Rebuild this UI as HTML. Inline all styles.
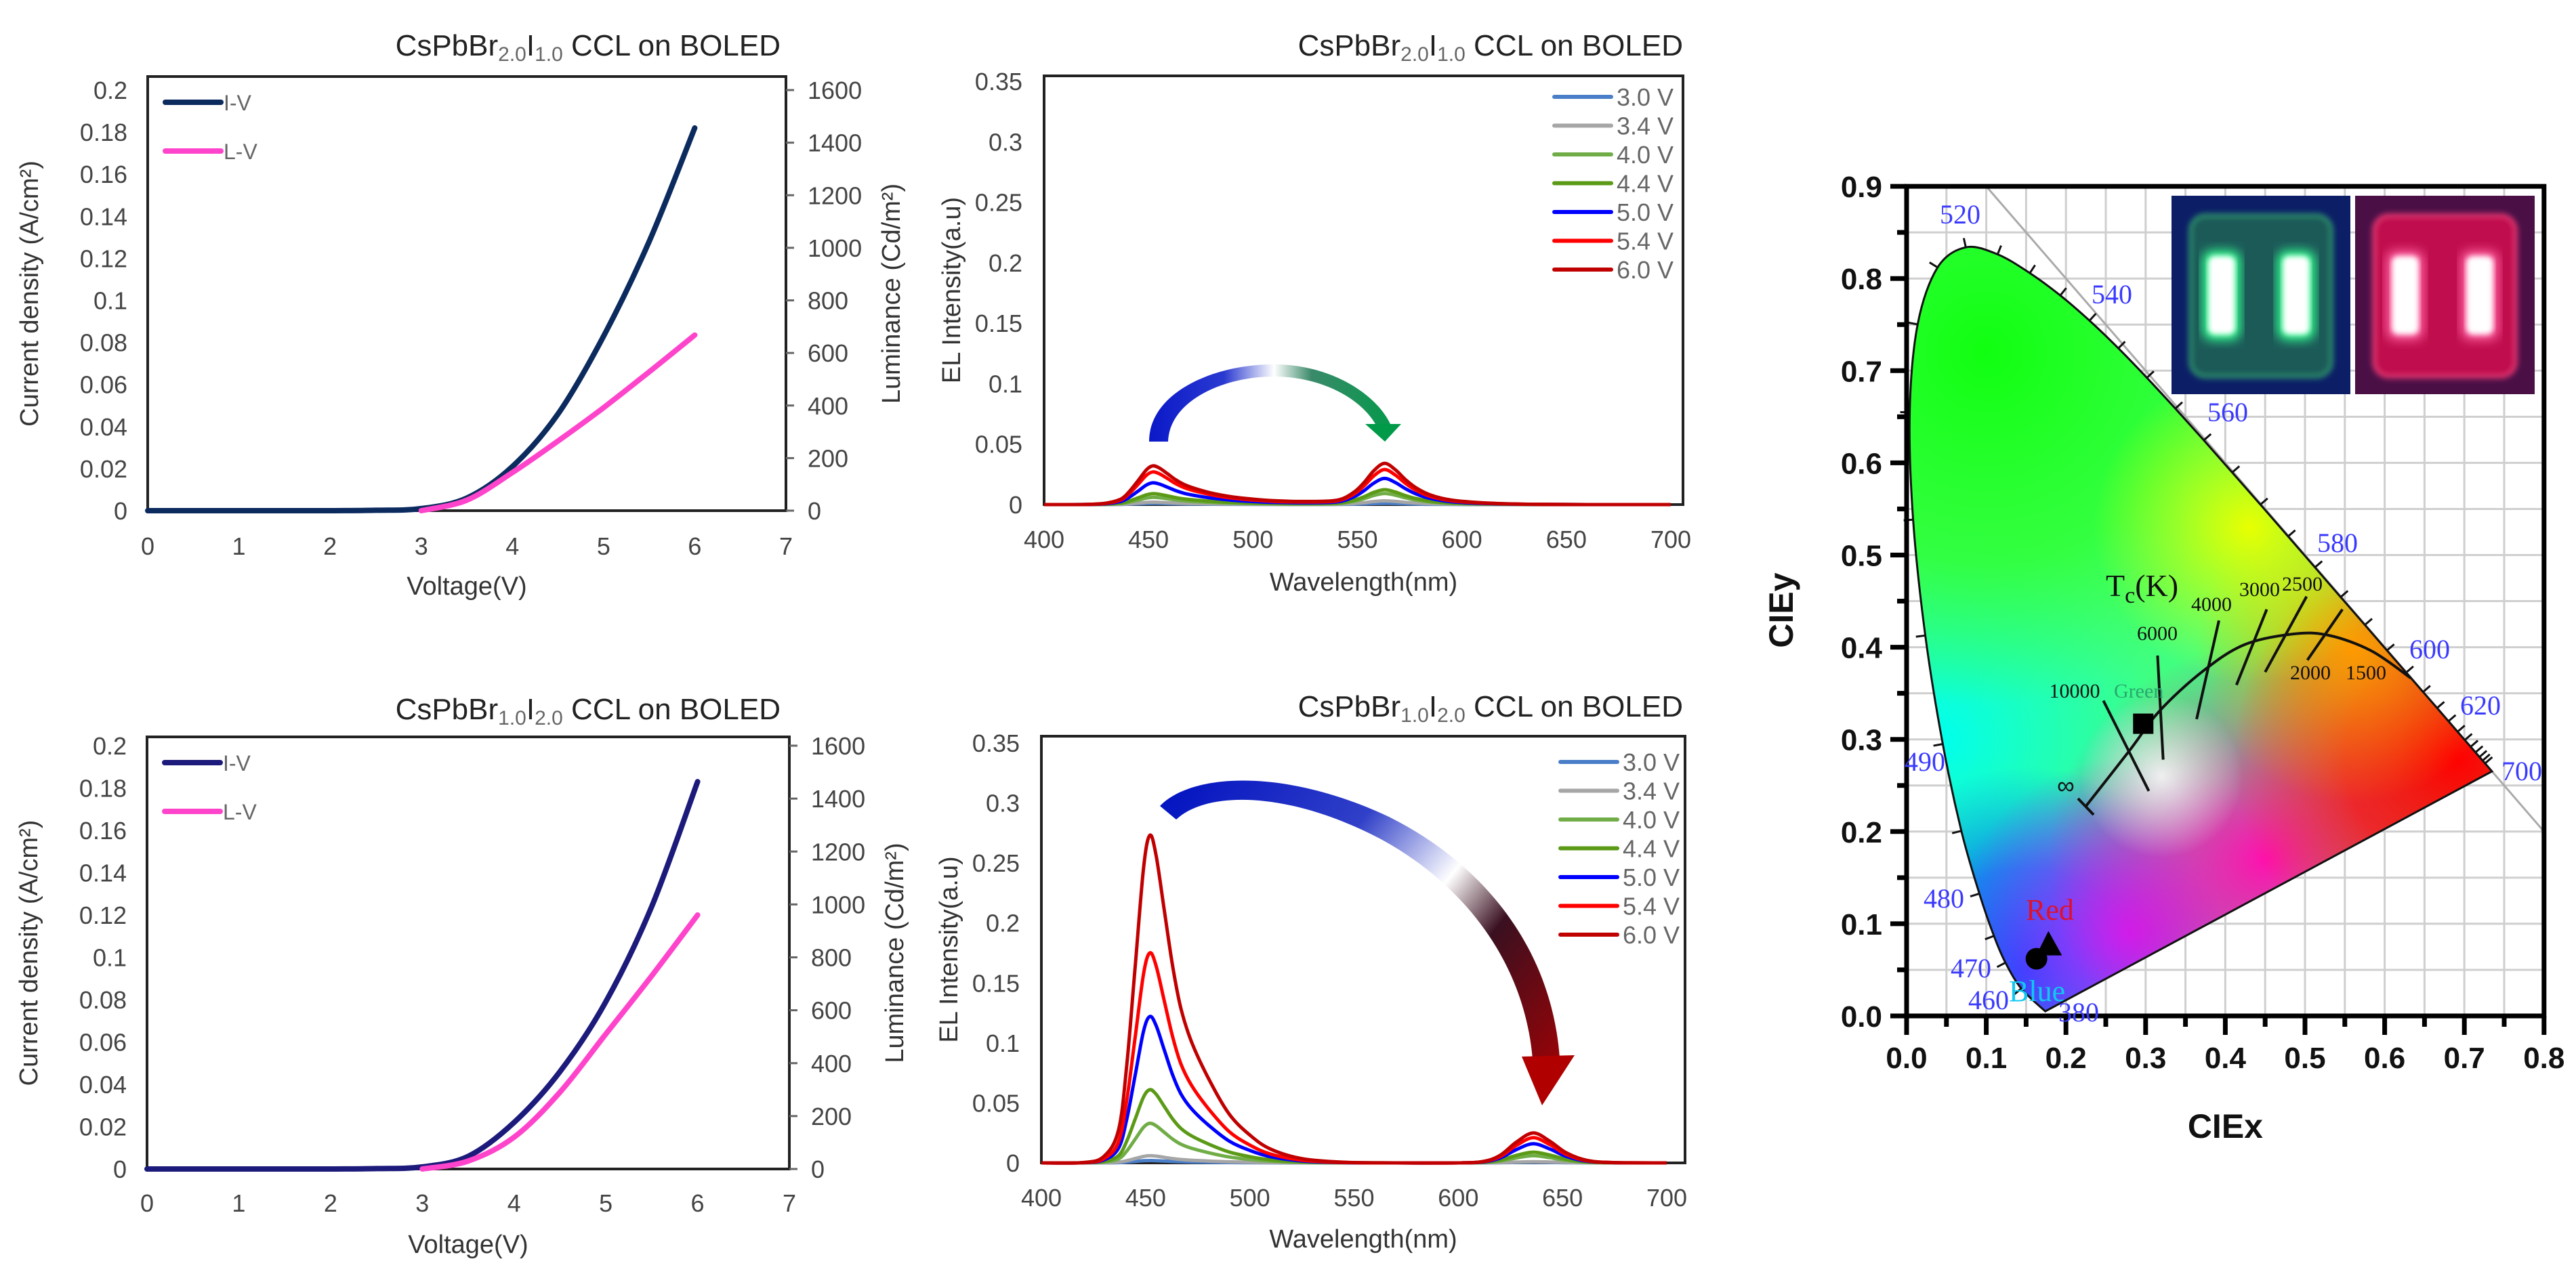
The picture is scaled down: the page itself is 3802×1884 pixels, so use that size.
<!DOCTYPE html>
<html><head><meta charset="utf-8">
<style>
html,body{margin:0;padding:0;background:#fff;}
svg{display:block;font-family:"Liberation Sans",sans-serif;}
</style></head>
<body>
<svg id="fig" xmlns="http://www.w3.org/2000/svg" width="3802" height="1884" viewBox="0 0 3802 1884">
<defs>
  <linearGradient id="arrowTopGrad" gradientUnits="userSpaceOnUse" x1="1696" y1="0" x2="2065" y2="0">
    <stop offset="0" stop-color="#0a18c8"/><stop offset="0.3" stop-color="#2a3ad0"/>
    <stop offset="0.5" stop-color="#ffffff"/><stop offset="0.65" stop-color="#3a8a6a"/><stop offset="1" stop-color="#009a48"/>
  </linearGradient>
  <linearGradient id="arrowBotGrad" gradientUnits="userSpaceOnUse" x1="1712" y1="1150" x2="2320" y2="1630">
    <stop offset="0" stop-color="#0010c0"/><stop offset="0.35" stop-color="#3040c8"/>
    <stop offset="0.55" stop-color="#ffffff"/><stop offset="0.68" stop-color="#3a1020"/><stop offset="1" stop-color="#b00000"/>
  </linearGradient>
  <filter id="blur8"><feGaussianBlur stdDeviation="8"/></filter>
  <filter id="blur4"><feGaussianBlur stdDeviation="4"/></filter>
  <clipPath id="locusClip"><path id="locusClipPath" d=""/></clipPath>
  <radialGradient id="gGreen"><stop offset="0" stop-color="#10ff10"/><stop offset="0.6" stop-color="#30ff30" stop-opacity="0.8"/><stop offset="1" stop-color="#40ff40" stop-opacity="0"/></radialGradient>
  <radialGradient id="gCyan"><stop offset="0" stop-color="#00ffee"/><stop offset="1" stop-color="#00ffee" stop-opacity="0"/></radialGradient>
  <radialGradient id="gBlue"><stop offset="0" stop-color="#0050ff"/><stop offset="0.5" stop-color="#0070ff" stop-opacity="0.8"/><stop offset="1" stop-color="#0090ff" stop-opacity="0"/></radialGradient>
  <radialGradient id="gViolet"><stop offset="0" stop-color="#c020ff"/><stop offset="1" stop-color="#c020ff" stop-opacity="0"/></radialGradient>
  <radialGradient id="gMag"><stop offset="0" stop-color="#ff10b0"/><stop offset="1" stop-color="#ff10b0" stop-opacity="0"/></radialGradient>
  <radialGradient id="gRed"><stop offset="0" stop-color="#ff0000"/><stop offset="0.5" stop-color="#ff1010" stop-opacity="0.8"/><stop offset="1" stop-color="#ff2020" stop-opacity="0"/></radialGradient>
  <radialGradient id="gOrange"><stop offset="0" stop-color="#ff9a00"/><stop offset="1" stop-color="#ff9a00" stop-opacity="0"/></radialGradient>
  <radialGradient id="gYellow"><stop offset="0" stop-color="#e8ff00"/><stop offset="1" stop-color="#e8ff00" stop-opacity="0"/></radialGradient>
  <radialGradient id="gWhite"><stop offset="0" stop-color="#ffffff" stop-opacity="0.85"/><stop offset="0.4" stop-color="#ffffff" stop-opacity="0.5"/><stop offset="1" stop-color="#ffffff" stop-opacity="0"/></radialGradient>
</defs>
<g id="layer"></g>
</svg>
<script>
// ---------- data ----------
const ivVolt = [0,1,2,2.5,3,3.5,4,4.5,5,5.5,6];
const ivTopJ = [0,0,0,0.0002,0.001,0.006,0.021,0.046,0.083,0.128,0.182];
const lvTopVolt = [3,3.5,4,4.5,5,5.5,6];
const lvTopL = [0,40,145,265,392,528,668];
const ivBotJ = [0,0,0,0.0002,0.001,0.006,0.022,0.046,0.079,0.124,0.183];
const lvBotVolt = [3,3.5,4,4.5,5,5.5,6];
const lvBotL = [0,30,120,290,510,730,960];

const voltLabels = ["3.0 V","3.4 V","4.0 V","4.4 V","5.0 V","5.4 V","6.0 V"];
const voltColors = ["#4a7ec8","#a6a6a6","#70ad47","#5b9a16","#0000ff","#ff0000","#c00000"];

const wlTop = [400,420,430,437,441,445,449,452,455,459,463,467,472,480,490,500,510,525,540,548,553,558,563,568,573,578,585,595,610,630,660,700];
const topShapeBlue = [0,0.003,0.04,0.15,0.35,0.62,0.9,1,0.95,0.8,0.64,0.52,0.42,0.3,0.2,0.14,0.1,0.08,0.06,0.05,0.045,0.04,0.035,0.03,0.027,0.024,0.02,0.012,0.005,0,0,0];
const topShapeGreen = [0,0,0,0,0,0,0,0,0,0,0,0,0,0,0,0,0,0,0.05,0.25,0.5,0.82,1,0.85,0.6,0.4,0.22,0.1,0.04,0.01,0,0];
const topPeakBlue = [0.001,0.002,0.006,0.009,0.018,0.027,0.032];
const topPeakGreen = [0.001,0.003,0.009,0.012,0.021,0.028,0.033];

const wlBot = [400,420,430,437,441,445,449,452,455,459,463,467,472,480,490,500,510,525,545,570,600,612,620,628,636,644,652,662,675,700];
const botShapeBlue = [0,0.001,0.02,0.1,0.3,0.6,0.9,1,0.94,0.77,0.6,0.47,0.37,0.26,0.15,0.085,0.042,0.013,0.002,0,0,0,0,0,0,0,0,0,0,0];
const botShapeRed = [0,0,0,0,0,0,0,0,0,0,0,0,0,0,0,0,0,0,0,0,0,0.05,0.25,0.7,1,0.72,0.33,0.08,0.01,0];
const botPeakBlue = [0.002,0.006,0.033,0.061,0.122,0.175,0.273];
const botPeakRed = [0.0005,0.001,0.006,0.009,0.016,0.021,0.025];

const locusX = [0.1741,0.1440,0.1241,0.1096,0.0913,0.0687,0.0454,0.0235,0.0082,0.0039,0.0139,0.0389,0.0743,0.1142,0.1547,0.1929,0.2296,0.2658,0.3016,0.3373,0.3731,0.4087,0.4441,0.4788,0.5125,0.5448,0.5752,0.6029,0.6270,0.6482,0.6658,0.6801,0.6915,0.7006,0.7079,0.7140,0.7190,0.7230,0.7260,0.7347];
const locusY = [0.0050,0.0297,0.0578,0.0868,0.1327,0.2007,0.2950,0.4127,0.5384,0.6548,0.7502,0.8120,0.8338,0.8262,0.8059,0.7816,0.7543,0.7243,0.6923,0.6589,0.6245,0.5896,0.5547,0.5202,0.4866,0.4544,0.4242,0.3965,0.3725,0.3514,0.3340,0.3197,0.3083,0.2993,0.2920,0.2859,0.2809,0.2770,0.2740,0.2653];
const planckX = [0.2245,0.2798,0.3172,0.3707,0.4235,0.4847,0.5298,0.5833,0.6327];
const planckY = [0.2270,0.2879,0.3306,0.3732,0.4026,0.4143,0.4129,0.3960,0.3666];
const isoLabels = ["10000","6000","4000","3000","2500","2000"];
const isoX1 = [0.247,0.315,0.392,0.452,0.502,0.547];
const isoY1 = [0.342,0.391,0.429,0.441,0.455,0.441];
const isoX2 = [0.304,0.322,0.364,0.414,0.450,0.503];
const isoY2 = [0.244,0.278,0.322,0.359,0.373,0.386];
const ptGreen = [0.297,0.317];
const ptBlue = [0.163,0.062];
const ptRed = [0.178,0.076];
const cieTicks = [0,0.1,0.2,0.3,0.4,0.5,0.6,0.7,0.8,0.9];

// ---------- helpers ----------
const NS = "http://www.w3.org/2000/svg";
const layer = document.getElementById("layer");
function mk(tag, attrs, parent){
  const e = document.createElementNS(NS, tag);
  for (const k in attrs) e.setAttribute(k, attrs[k]);
  (parent || layer).appendChild(e);
  return e;
}
function smoothPath(pts){
  let d = "M" + pts[0][0].toFixed(1) + "," + pts[0][1].toFixed(1);
  for (let i = 0; i < pts.length - 1; i++){
    const p0 = pts[Math.max(0,i-1)], p1 = pts[i], p2 = pts[i+1], p3 = pts[Math.min(pts.length-1,i+2)];
    const c1x = p1[0] + (p2[0]-p0[0])/6, c1y = p1[1] + (p2[1]-p0[1])/6;
    const c2x = p2[0] - (p3[0]-p1[0])/6, c2y = p2[1] - (p3[1]-p1[1])/6;
    d += " C" + c1x.toFixed(1) + "," + c1y.toFixed(1) + " " + c2x.toFixed(1) + "," + c2y.toFixed(1) + " " + p2[0].toFixed(1) + "," + p2[1].toFixed(1);
  }
  return d;
}
function txt(x, y, s, attrs, name){
  const t = mk("text", Object.assign({x:x, y:y}, attrs||{}));
  t.textContent = s;
  
  
  return t;
}
function title(xRight, y, a, b, name){
  const t = mk("text", {x:xRight, y:y, "text-anchor":"end", "font-size":44, fill:"#222"});
  
  
  const parts = [["CsPbBr",0],[a,1],["I",0],[b,1],[" CCL on BOLED",0]];
  parts.forEach(p=>{
    const s = document.createElementNS(NS,"tspan");
    s.textContent = p[0];
    if (p[1]) { s.setAttribute("font-size","30"); s.setAttribute("dy","8"); s.setAttribute("fill","#666"); }
    else if (p[0]==="I" || p[0].startsWith(" ")) { s.setAttribute("dy","-8"); }
    t.appendChild(s);
  });
}

// ---------- I-V / L-V chart ----------
function drawIV(cfg){
  const g = mk("g", {});
  
  
  const sx = v => cfg.x0 + (v/7)*(cfg.x7-cfg.x0);
  const sy = j => cfg.y0 - (j/0.2)*(cfg.y0-cfg.y02);
  const syL = l => cfg.y0 - (l/1600)*(cfg.y0-cfg.y02);
  const box = mk("rect", {x:cfg.x0, y:cfg.top, width:cfg.right-cfg.x0, height:cfg.y0-cfg.top, fill:"none", stroke:"#222", "stroke-width":4}, g);
   
  for (let i=0;i<=10;i++){
    const v = i*0.02;
    txt(cfg.x0-30, sy(v)+13, i===0?"0":(i===10?"0.2":(i%5===0?v.toFixed(1):v.toFixed(2))), {"text-anchor":"end","font-size":36,fill:"#444"}, "y-tick-label");
  }
  for (let i=0;i<=8;i++){
    const l=i*200;
    const tk = mk("line",{x1:cfg.right,x2:cfg.right+12,y1:syL(l),y2:syL(l),stroke:"#666","stroke-width":3},g);
     
    txt(cfg.right+32, syL(l)+13, String(l), {"font-size":36,fill:"#444"}, "y2-tick-label");
  }
  for (let v=0; v<=7; v++) txt(sx(v), cfg.xtY, String(v), {"text-anchor":"middle","font-size":36,fill:"#444"}, "x-tick-label");
  txt((cfg.x0+cfg.right)/2, cfg.xtitleY, "Voltage(V)", {"text-anchor":"middle","font-size":38,fill:"#333"}, "x-axis-title");
  txt(0,0,"Current density (A/cm²)",{"text-anchor":"middle","font-size":38,fill:"#333",transform:"translate("+(cfg.x0-162)+","+((cfg.top+cfg.y0)/2)+") rotate(-90)"},"y-axis-title");
  txt(0,0,"Luminance (Cd/m²)",{"text-anchor":"middle","font-size":38,fill:"#333",transform:"translate("+(cfg.right+168)+","+((cfg.top+cfg.y0)/2)+") rotate(-90)"},"y2-axis-title");
  const iv = mk("path",{d:smoothPath(ivVolt.map((v,i)=>[sx(v),sy(cfg.J[i])])),fill:"none",stroke:cfg.ivColor,"stroke-width":8,"stroke-linecap":"round"},g);
   
  const lv = mk("path",{d:smoothPath(cfg.LV.map((v,i)=>[sx(v),syL(cfg.L[i])])),fill:"none",stroke:"#ff44cc","stroke-width":8,"stroke-linecap":"round"},g);
   
  const l1 = mk("line",{x1:cfg.x0+26,x2:cfg.x0+108,y1:cfg.legY,y2:cfg.legY,stroke:cfg.ivColor,"stroke-width":8,"stroke-linecap":"round"},g);
   
  txt(cfg.x0+112, cfg.legY+12, "I-V", {"font-size":32,fill:"#666"}, "legend-iv-label");
  const l2 = mk("line",{x1:cfg.x0+26,x2:cfg.x0+108,y1:cfg.legY+72,y2:cfg.legY+72,stroke:"#ff44cc","stroke-width":8,"stroke-linecap":"round"},g);
   
  txt(cfg.x0+112, cfg.legY+84, "L-V", {"font-size":32,fill:"#666"}, "legend-lv-label");
}

drawIV({name:"iv-chart-top", x0:218, x7:1160, right:1160, top:113, y0:754, y02:133, xtY:819, xtitleY:878, J:ivTopJ, LV:lvTopVolt, L:lvTopL, ivColor:"#0b2a5e", legY:151});
drawIV({name:"iv-chart-bottom", x0:217, x7:1165, right:1165, top:1088, y0:1726, y02:1101, xtY:1789, xtitleY:1850, J:ivBotJ, LV:lvBotVolt, L:lvBotL, ivColor:"#1c1a7a", legY:1126});
title(1152, 82, "2.0", "1.0", "chart-title-top-left");
title(1152, 1062, "1.0", "2.0", "chart-title-bottom-left");

// ---------- EL spectra chart ----------
function drawEL(cfg){
  const g = mk("g", {});
  
  
  const sx = w => cfg.x400 + (w-400)/300*(cfg.x700-cfg.x400);
  const sy = v => cfg.y0 - (v/0.35)*(cfg.y0-cfg.y35);
  const box = mk("rect",{x:cfg.x400,y:cfg.top,width:cfg.right-cfg.x400,height:cfg.y0-cfg.top,fill:"none",stroke:"#222","stroke-width":4},g);
   
  for (let i=0;i<=7;i++){
    const v=i*0.05;
    txt(cfg.x400-32, sy(v)+13, i===0?"0":String(+v.toFixed(2)), {"text-anchor":"end","font-size":36,fill:"#444"}, "y-tick-label");
  }
  for (let w=400; w<=700; w+=50) txt(sx(w), cfg.xtY, String(w), {"text-anchor":"middle","font-size":36,fill:"#444"}, "x-tick-label");
  txt((cfg.x400+cfg.right)/2, cfg.xtitleY, "Wavelength(nm)", {"text-anchor":"middle","font-size":38,fill:"#333"}, "x-axis-title");
  txt(0,0,"EL Intensity(a.u)",{"text-anchor":"middle","font-size":38,fill:"#333",transform:"translate("+(cfg.x400-124)+","+((cfg.top+cfg.y0)/2)+") rotate(-90)"},"y-axis-title");
  for (let s=0; s<7; s++){
    const pts = cfg.wl.map((w,i)=>[sx(w), sy(cfg.pa[s]*cfg.sa[i] + cfg.pb[s]*cfg.sb[i])]);
    const p = mk("path",{d:smoothPath(pts),fill:"none",stroke:voltColors[s],"stroke-width":5,"stroke-linejoin":"round"},g);
    
    
    const ly = cfg.legY + s*42.5;
    const ln = mk("line",{x1:cfg.legX,x2:cfg.legX+84,y1:ly,y2:ly,stroke:voltColors[s],"stroke-width":6,"stroke-linecap":"round"},g);
     
    txt(cfg.legX+92, ly+13, voltLabels[s], {"font-size":36,fill:"#666"}, "legend-label");
  }
}
drawEL({name:"el-chart-top", x400:1541, x700:2466, right:2484, top:112, y0:745, y35:120, xtY:809, xtitleY:872, wl:wlTop, sa:topShapeBlue, sb:topShapeGreen, pa:topPeakBlue, pb:topPeakGreen, legX:2294, legY:143});
drawEL({name:"el-chart-bottom", x400:1537, x700:2460, right:2487, top:1087, y0:1717, y35:1097, xtY:1781, xtitleY:1842, wl:wlBot, sa:botShapeBlue, sb:botShapeRed, pa:botPeakBlue, pb:botPeakRed, legX:2303, legY:1125});
title(2484, 82, "2.0", "1.0", "chart-title-top-middle");
title(2484, 1058, "1.0", "2.0", "chart-title-bottom-middle");

let a1 = mk("path",{d:"M1696,652 C1696,580 1790,538 1880,538 C1962,538 2030,580 2052,626 L2030,626 C2008,588 1950,556 1880,556 C1805,556 1726,592 1724,652 Z",fill:"url(#arrowTopGrad)"});
 
let a1h = mk("path",{d:"M2015,626 L2068,626 L2044,652 Z",fill:"#009a48"});
 
let a2 = mk("path",{d:"M1712,1190 C1760,1140 1900,1135 2050,1206 C2190,1276 2290,1400 2302,1562 L2262,1564 C2250,1420 2160,1306 2040,1240 C1900,1166 1780,1168 1736,1210 Z",fill:"url(#arrowBotGrad)"});
 
let a2h = mk("path",{d:"M2246,1560 L2324,1558 L2276,1632 Z",fill:"#b00000"});
 

// ---------- CIE chart ----------
const cx = x => 2814 + x*1176;
const cy = y => 1500 - y*1361;
const cie = mk("g",{});
 
for (let i=1;i<16;i++){
  const v=i*0.05;
  const gl = mk("line",{x1:cx(v),x2:cx(v),y1:cy(0),y2:cy(0.9),stroke:"#cfcfcf","stroke-width":3},cie);
   
}
for (let i=1;i<18;i++){
  const v=i*0.05;
  const gl = mk("line",{x1:cx(0),x2:cx(0.8),y1:cy(v),y2:cy(v),stroke:"#cfcfcf","stroke-width":3},cie);
   
}
const diag = mk("line",{x1:cx(0.1),y1:cy(0.9),x2:cx(0.8),y2:cy(0.2),stroke:"#aaa","stroke-width":3},cie);
 
const locPts = locusX.map((x,i)=>[cx(x),cy(locusY[i])]);
const locD = smoothPath(locPts) + " Z";
document.getElementById("locusClipPath").setAttribute("d", locD);
const fillG = mk("g",{"clip-path":"url(#locusClip)"},cie);
 
mk("rect",{x:2800,y:250,width:1000,height:1260,fill:"#40ff80"},fillG);
const blobs = [["gCyan",0.04,0.30,330],["gGreen",0.10,0.72,520],["gBlue",0.15,0.05,300],["gViolet",0.28,0.09,260],["gMag",0.45,0.17,320],["gRed",0.69,0.28,330],["gOrange",0.56,0.40,230],["gYellow",0.43,0.53,230],["gWhite",0.32,0.26,120]];
blobs.forEach(b=>{
  const e = mk("ellipse",{cx:cx(b[1]),cy:cy(b[2]),rx:b[3],ry:b[3],fill:"url(#"+b[0]+")"},fillG);
   
});
const loc = mk("path",{d:locD,fill:"none",stroke:"#111","stroke-width":3},cie);
 
for (let i=1;i<locPts.length-1;i++){
  const dx = locPts[i+1][0]-locPts[i-1][0], dy = locPts[i+1][1]-locPts[i-1][1];
  const L = Math.hypot(dx,dy)||1; const nx = dy/L, ny = -dx/L;
  const t = mk("line",{x1:locPts[i][0],y1:locPts[i][1],x2:locPts[i][0]+nx*14,y2:locPts[i][1]+ny*14,stroke:"#111","stroke-width":3},cie);
   
}
[["520",2893,330],["540",3117,448],["560",3288,622],["580",3450,815],["600",3586,972],["620",3661,1055],["700",3722,1152],["490",2841,1138],["480",2869,1340],["470",2909,1443],["460",2935,1490],["380",3068,1508]].forEach(w=>{
  txt(w[1],w[2],w[0],{"text-anchor":"middle","font-size":40,fill:"#3a3aff","font-family":"Liberation Serif, serif"},"wavelength-label");
});
const pl = mk("path",{d:smoothPath(planckX.map((x,i)=>[cx(x),cy(planckY[i])])),fill:"none",stroke:"#111","stroke-width":4},cie);
 
const cap = mk("line",{x1:3067,y1:1179,x2:3090,y2:1203,stroke:"#111","stroke-width":4},cie);
 
isoLabels.forEach((lab,i)=>{
  const l = mk("line",{x1:cx(isoX1[i]),y1:cy(isoY1[i]),x2:cx(isoX2[i]),y2:cy(isoY2[i]),stroke:"#111","stroke-width":4},cie);
   
});
[["10000",3062,1030],["6000",3184,945],["4000",3264,902],["3000",3335,880],["2500",3398,872],["2000",3410,1003],["1500",3492,1003]].forEach(t=>{
  txt(t[1],t[2],t[0],{"text-anchor":"middle","font-size":30,fill:"#111","font-family":"Liberation Serif, serif"},"cct-label");
});
const tc = txt(3108,880,"T",{"font-size":46,fill:"#111","font-family":"Liberation Serif, serif"},"cct-axis-label");
const tcs = document.createElementNS(NS,"tspan"); tcs.textContent="c"; tcs.setAttribute("font-size","34"); tcs.setAttribute("dy","10"); tc.appendChild(tcs);
const tck = document.createElementNS(NS,"tspan"); tck.textContent="(K)"; tck.setAttribute("dy","-10"); tc.appendChild(tck);
txt(3049,1172,"∞",{"text-anchor":"middle","font-size":36,fill:"#111"},"infinity-label");
txt(3120,1030,"Green",{"font-size":30,fill:"#2aa870","font-family":"Liberation Serif, serif"},"green-point-label");
txt(2990,1358,"Red",{"font-size":44,fill:"#e0102a","font-family":"Liberation Serif, serif"},"red-point-label");
txt(2965,1478,"Blue",{"font-size":44,fill:"#10c8f0","font-family":"Liberation Serif, serif"},"blue-point-label");
const sq = mk("rect",{x:cx(ptGreen[0])-15,y:cy(ptGreen[1])-15,width:30,height:30,fill:"#000"},cie);
 
const trX = cx(ptRed[0]), trY = cy(ptRed[1]);
const tr = mk("path",{d:"M"+trX+","+(trY-22)+" L"+(trX+20)+","+(trY+14)+" L"+(trX-18)+","+(trY+14)+" Z",fill:"#000"},cie);
 
const ci = mk("circle",{cx:cx(ptBlue[0]),cy:cy(ptBlue[1]),r:16,fill:"#000"},cie);
 
const ax = mk("path",{d:"M"+cx(0)+","+cy(0.9)+" L"+cx(0.8)+","+cy(0.9)+" L"+cx(0.8)+","+cy(0)+" L"+cx(0)+","+cy(0)+" Z",fill:"none",stroke:"#000","stroke-width":7},cie);
 
for (let i=0;i<=18;i++){
  const v=i*0.05, major = i%2===0;
  const t = mk("line",{x1:cx(0),x2:cx(0)-(major?24:14),y1:cy(v),y2:cy(v),stroke:"#000","stroke-width":7},cie);
   
}
for (let i=0;i<=16;i++){
  const v=i*0.05, major = i%2===0;
  const t = mk("line",{x1:cx(v),x2:cx(v),y1:cy(0),y2:cy(0)+(major?28:16),stroke:"#000","stroke-width":7},cie);
   
}
cieTicks.forEach(v=>{
  txt(cx(0)-36, cy(v)+16, v.toFixed(1), {"text-anchor":"end","font-size":44,"font-weight":"bold",fill:"#111"}, "y-tick-label");
  if (v<=0.8) txt(cx(v), 1577, v.toFixed(1), {"text-anchor":"middle","font-size":44,"font-weight":"bold",fill:"#111"}, "x-tick-label");
});
txt(cx(0.4), 1680, "CIEx", {"text-anchor":"middle","font-size":50,"font-weight":"bold",fill:"#111"}, "x-axis-title");
txt(0,0,"CIEy",{"text-anchor":"middle","font-size":50,"font-weight":"bold",fill:"#111",transform:"translate(2646,901) rotate(-90)"},"y-axis-title");

function photo(x, w, bg, frame, inner, bar, name){
  const g = mk("g",{});
   
  mk("rect",{x:x,y:289,width:w,height:293,fill:bg},g);
  mk("rect",{x:x+28,y:318,width:w-56,height:238,rx:22,fill:inner,stroke:frame,"stroke-width":6,filter:"url(#blur4)"},g);
  mk("rect",{x:x+46,y:370,width:56,height:132,rx:14,fill:bar,filter:"url(#blur8)"},g);
  mk("rect",{x:x+156,y:370,width:56,height:132,rx:14,fill:bar,filter:"url(#blur8)"},g);
  mk("rect",{x:x+54,y:378,width:40,height:116,rx:10,fill:"#ffffff",filter:"url(#blur4)"},g);
  mk("rect",{x:x+164,y:378,width:40,height:116,rx:10,fill:"#ffffff",filter:"url(#blur4)"},g);
}
photo(3205, 264, "#0c1f66", "#2a8a6a", "#1d5a58", "#30ff90", "inset-photo-green");
photo(3476, 265, "#4a1046", "#e03070", "#c0104e", "#ff60a0", "inset-photo-red");
</script>
</body></html>
